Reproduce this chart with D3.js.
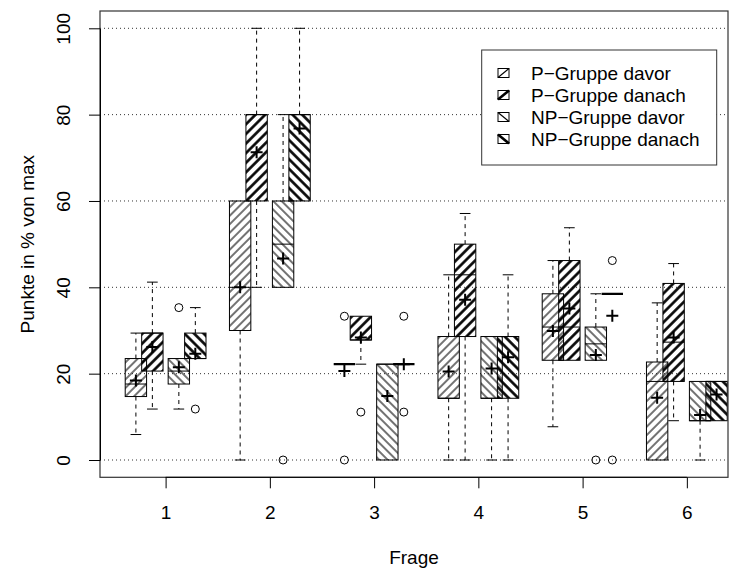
<!DOCTYPE html>
<html>
<head>
<meta charset="utf-8">
<script src="https://cdn.jsdelivr.net/npm/d3@7"></script>
<style>
  body { margin: 0; background: #fff; }
  text { font-family: "Liberation Sans", Arial, Helvetica, sans-serif; fill: #000; }
</style>
</head>
<body>
<div id="chart"></div>
<script>
/* Boxplots: Punkte in % von max per Frage, P- and NP-Gruppe before/after */

const questions = ["1", "2", "3", "4", "5", "6"];
const groups = ["P\u2212Gruppe davor", "P\u2212Gruppe danach", "NP\u2212Gruppe davor", "NP\u2212Gruppe danach"];
const yTicks = [0, 20, 40, 60, 80, 100];

// per question: [lower whisker, Q1, median, Q3, upper whisker]
const pDavor = [
    [5.9, 14.7, 17.6, 23.5, 29.4],
    [0, 30, 40, 60, 60],
    [22.2, 22.2, 22.2, 22.2, 22.2],
    [0, 14.3, 14.3, 28.6, 42.9],
    [7.7, 23.1, 30.8, 38.5, 46.2],
    [0, 0, 18.2, 22.7, 36.4]
];
const pDanach = [
    [11.8, 20.6, 29.4, 29.4, 41.2],
    [40, 60, 80, 80, 100],
    [22.2, 27.8, 27.8, 33.3, 33.3],
    [0, 28.6, 42.9, 50, 57.1],
    [23.1, 23.1, 30.8, 46.2, 53.8],
    [9.1, 18.2, 27.3, 40.9, 45.5]
];
const npDavor = [
    [11.8, 17.6, 20.6, 23.5, 23.5],
    [40, 40, 50, 60, 80],
    [0, 0, 22.2, 22.2, 22.2],
    [0, 14.3, 14.3, 28.6, 28.6],
    [23.1, 23.1, 26.9, 30.8, 38.5],
    [0, 9.1, 9.1, 18.2, 18.2]
];
const npDanach = [
    [23.5, 23.5, 23.5, 29.4, 35.3],
    [60, 60, 80, 80, 100],
    [22.2, 22.2, 22.2, 22.2, 22.2],
    [0, 14.3, 28.6, 28.6, 42.9],
    [38.5, 38.5, 38.5, 38.5, 38.5],
    [9.1, 9.1, 18.2, 18.2, 18.2]
];

// group means (the "+" marks)
const pDavorMean = [18.4, 40.0, 20.6, 20.5, 29.9, 14.4];
const pDanachMean = [26.2, 71.3, 28.4, 37.1, 35.1, 28.4];
const npDavorMean = [21.5, 46.7, 14.8, 21.2, 24.3, 10.4];
const npDanachMean = [24.6, 76.8, 22.2, 23.8, 33.4, 15.2];

// outliers
const pDavorOut = [[], [], [33.3, 0], [], [], []];
const pDanachOut = [[], [], [11.1], [], [], []];
const npDavorOut = [[35.3], [0], [], [], [0], []];
const npDanachOut = [[11.8], [], [33.3, 11.1], [], [46.2, 0], []];

const stats = [pDavor, pDanach, npDavor, npDanach];
const means = [pDavorMean, pDanachMean, npDavorMean, npDanachMean];
const outs = [pDavorOut, pDanachOut, npDavorOut, npDanachOut];

const width = 744, height = 572,
    margin = ({ top: 11, right: 16, bottom: 95, left: 100 });
const plotBottom = height - margin.bottom + 0.3;

let svg = d3.select("#chart")
    .append("svg")
    .attr("width", width)
    .attr("height", height)
    .attr("viewBox", [0, 0, width, height]);

/* x: one unit per Frage, ticks at the group centres */
let x = d3.scaleLinear()
    .domain([0.3707, 6.3947])
    .range([margin.left, width - margin.right]);

let y = d3.scaleLinear()
    .domain([0, 100])
    .range([460, 28.3]);

const subOffset = [-0.285, -0.127, 0.127, 0.285];
const boxW = 0.205;
const boxPos = (q, g) => (q + 1) + subOffset[g];

/* hatch patterns: thin / , thick / , thin \ , thick \ */
let defs = svg.append("defs");
const hatch = [
    { angle: 45, size: 6, lw: 1.1 },
    { angle: 45, size: 6.8, lw: 2.6 },
    { angle: -45, size: 6, lw: 1.1 },
    { angle: -45, size: 6.8, lw: 2.6 }
];
hatch.forEach((h, i) => {
    let p = defs.append("pattern")
        .attr("id", "h" + i)
        .attr("patternUnits", "userSpaceOnUse")
        .attr("width", h.size)
        .attr("height", h.size)
        .attr("patternTransform", `rotate(${h.angle})`);
    p.append("line")
        .attr("x1", h.size / 2).attr("x2", h.size / 2)
        .attr("y1", -1).attr("y2", h.size + 1)
        .attr("stroke", "#000")
        .attr("stroke-width", h.lw);
});

defs.append("clipPath").attr("id", "plotclip")
    .append("rect")
    .attr("x", margin.left).attr("y", margin.top)
    .attr("width", width - margin.right - margin.left)
    .attr("height", plotBottom - margin.top);

/* dotted horizontal grid */
svg.append("g")
    .selectAll("line")
    .data(yTicks)
    .join("line")
    .attr("x1", margin.left)
    .attr("x2", width - margin.right)
    .attr("y1", d => y(d))
    .attr("y2", d => y(d))
    .attr("stroke", "#333")
    .attr("stroke-width", 1)
    .attr("stroke-dasharray", "1,3");

/* boxes */
let plot = svg.append("g").attr("clip-path", "url(#plotclip)");

stats.forEach((series, g) => {
    series.forEach((s, q) => {
        const cx = x(boxPos(q, g));
        const half = (x(boxW) - x(0)) / 2;
        const [lo, q1, med, q3, hi] = s;
        let b = plot.append("g");

        // whiskers + staples
        [[q1, lo], [q3, hi]].forEach(([from, to]) => {
            if (from === to) return;
            b.append("line")
                .attr("x1", cx).attr("x2", cx)
                .attr("y1", y(from)).attr("y2", y(to))
                .attr("stroke", "#000")
                .attr("stroke-dasharray", "4,4");
            b.append("line")
                .attr("x1", cx - half / 2).attr("x2", cx + half / 2)
                .attr("y1", y(to)).attr("y2", y(to))
                .attr("stroke", "#000");
        });

        // box with hatching
        b.append("rect")
            .attr("x", cx - half)
            .attr("width", half * 2)
            .attr("y", y(q3))
            .attr("height", y(q1) - y(q3))
            .attr("fill", `url(#h${g})`)
            .attr("stroke", "#000")
            .attr("stroke-width", 1);

        // median
        b.append("line")
            .attr("x1", cx - half).attr("x2", cx + half)
            .attr("y1", y(med)).attr("y2", y(med))
            .attr("stroke", "#000")
            .attr("stroke-width", q1 === q3 ? 2.2 : 1);

        // outliers
        b.selectAll("circle")
            .data(outs[g][q])
            .join("circle")
            .attr("cx", cx)
            .attr("cy", d => y(d))
            .attr("r", 4)
            .attr("fill", "none")
            .attr("stroke", "#000");
    });
});

/* means as "+" */
means.forEach((m, g) => {
    plot.append("g")
        .selectAll("path")
        .data(m)
        .join("path")
        .attr("d", (d, q) => {
            const cx = x(boxPos(q, g)), cy = y(d);
            return `M${cx - 6},${cy}H${cx + 6}M${cx},${cy - 6}V${cy + 6}`;
        })
        .attr("stroke", "#000")
        .attr("stroke-width", 2);
});

/* plot frame */
svg.append("rect")
    .attr("x", margin.left)
    .attr("y", margin.top)
    .attr("width", width - margin.right - margin.left)
    .attr("height", plotBottom - margin.top)
    .attr("fill", "none")
    .attr("stroke", "#333")
    .attr("stroke-width", 1.2);

/* axes */
let yAxis = svg.append("g")
    .attr("transform", `translate(${margin.left},0)`)
    .call(d3.axisLeft(y).tickValues(yTicks).tickSize(11).tickSizeOuter(0));
yAxis.selectAll("text")
    .attr("x", 0)
    .attr("y", -37)
    .attr("dy", null)
    .attr("transform", "rotate(-90)")
    .attr("text-anchor", "middle")
    .attr("dominant-baseline", "central")
    .style("font-size", "19px");

let xAxis = svg.append("g")
    .attr("transform", `translate(0,${plotBottom})`)
    .call(d3.axisBottom(x)
        .tickValues(questions.map((d, i) => i + 1))
        .tickFormat((d, i) => questions[i])
        .tickSize(11));
xAxis.select(".domain").remove();
xAxis.append("line")
    .attr("x1", x(1)).attr("x2", x(questions.length))
    .attr("stroke", "#000");
xAxis.selectAll("text")
    .attr("y", 35)
    .attr("dy", null)
    .attr("dominant-baseline", "central")
    .style("font-size", "19px");
svg.selectAll(".tick line").attr("stroke", "#000");

/* axis titles */
svg.append("text")
    .attr("transform", `translate(27,${(margin.top + plotBottom) / 2}) rotate(-90)`)
    .attr("text-anchor", "middle")
    .attr("dominant-baseline", "central")
    .style("font-size", "19px")
    .text("Punkte in % von max");

svg.append("text")
    .attr("x", (margin.left + width - margin.right) / 2)
    .attr("y", 557)
    .attr("text-anchor", "middle")
    .attr("dominant-baseline", "central")
    .style("font-size", "19px")
    .text("Frage");

/* legend */
let legend = svg.append("g");
legend.append("rect")
    .attr("x", 481.7).attr("y", 50)
    .attr("width", 235).attr("height", 115)
    .attr("fill", "#fff")
    .attr("stroke", "#333");

let item = legend.selectAll(".item")
    .data(groups)
    .join("g")
    .attr("class", "item")
    .attr("transform", (d, i) => `translate(0,${73 + i * 22})`);

// small swatch with a single diagonal hatch line
item.append("line")
    .attr("x1", 498)
    .attr("x2", 509)
    .attr("y1", (d, i) => hatch[i].angle > 0 ? 4.5 : -4.5)
    .attr("y2", (d, i) => hatch[i].angle > 0 ? -4.5 : 4.5)
    .attr("stroke", "#000")
    .attr("stroke-width", (d, i) => hatch[i].lw);

item.append("rect")
    .attr("x", 498).attr("y", -4.5)
    .attr("width", 11).attr("height", 9)
    .attr("fill", "none")
    .attr("stroke", "#000");

item.append("text")
    .attr("x", 531)
    .attr("dominant-baseline", "central")
    .style("font-size", "19px")
    .text(d => d);
</script>
</body>
</html>
